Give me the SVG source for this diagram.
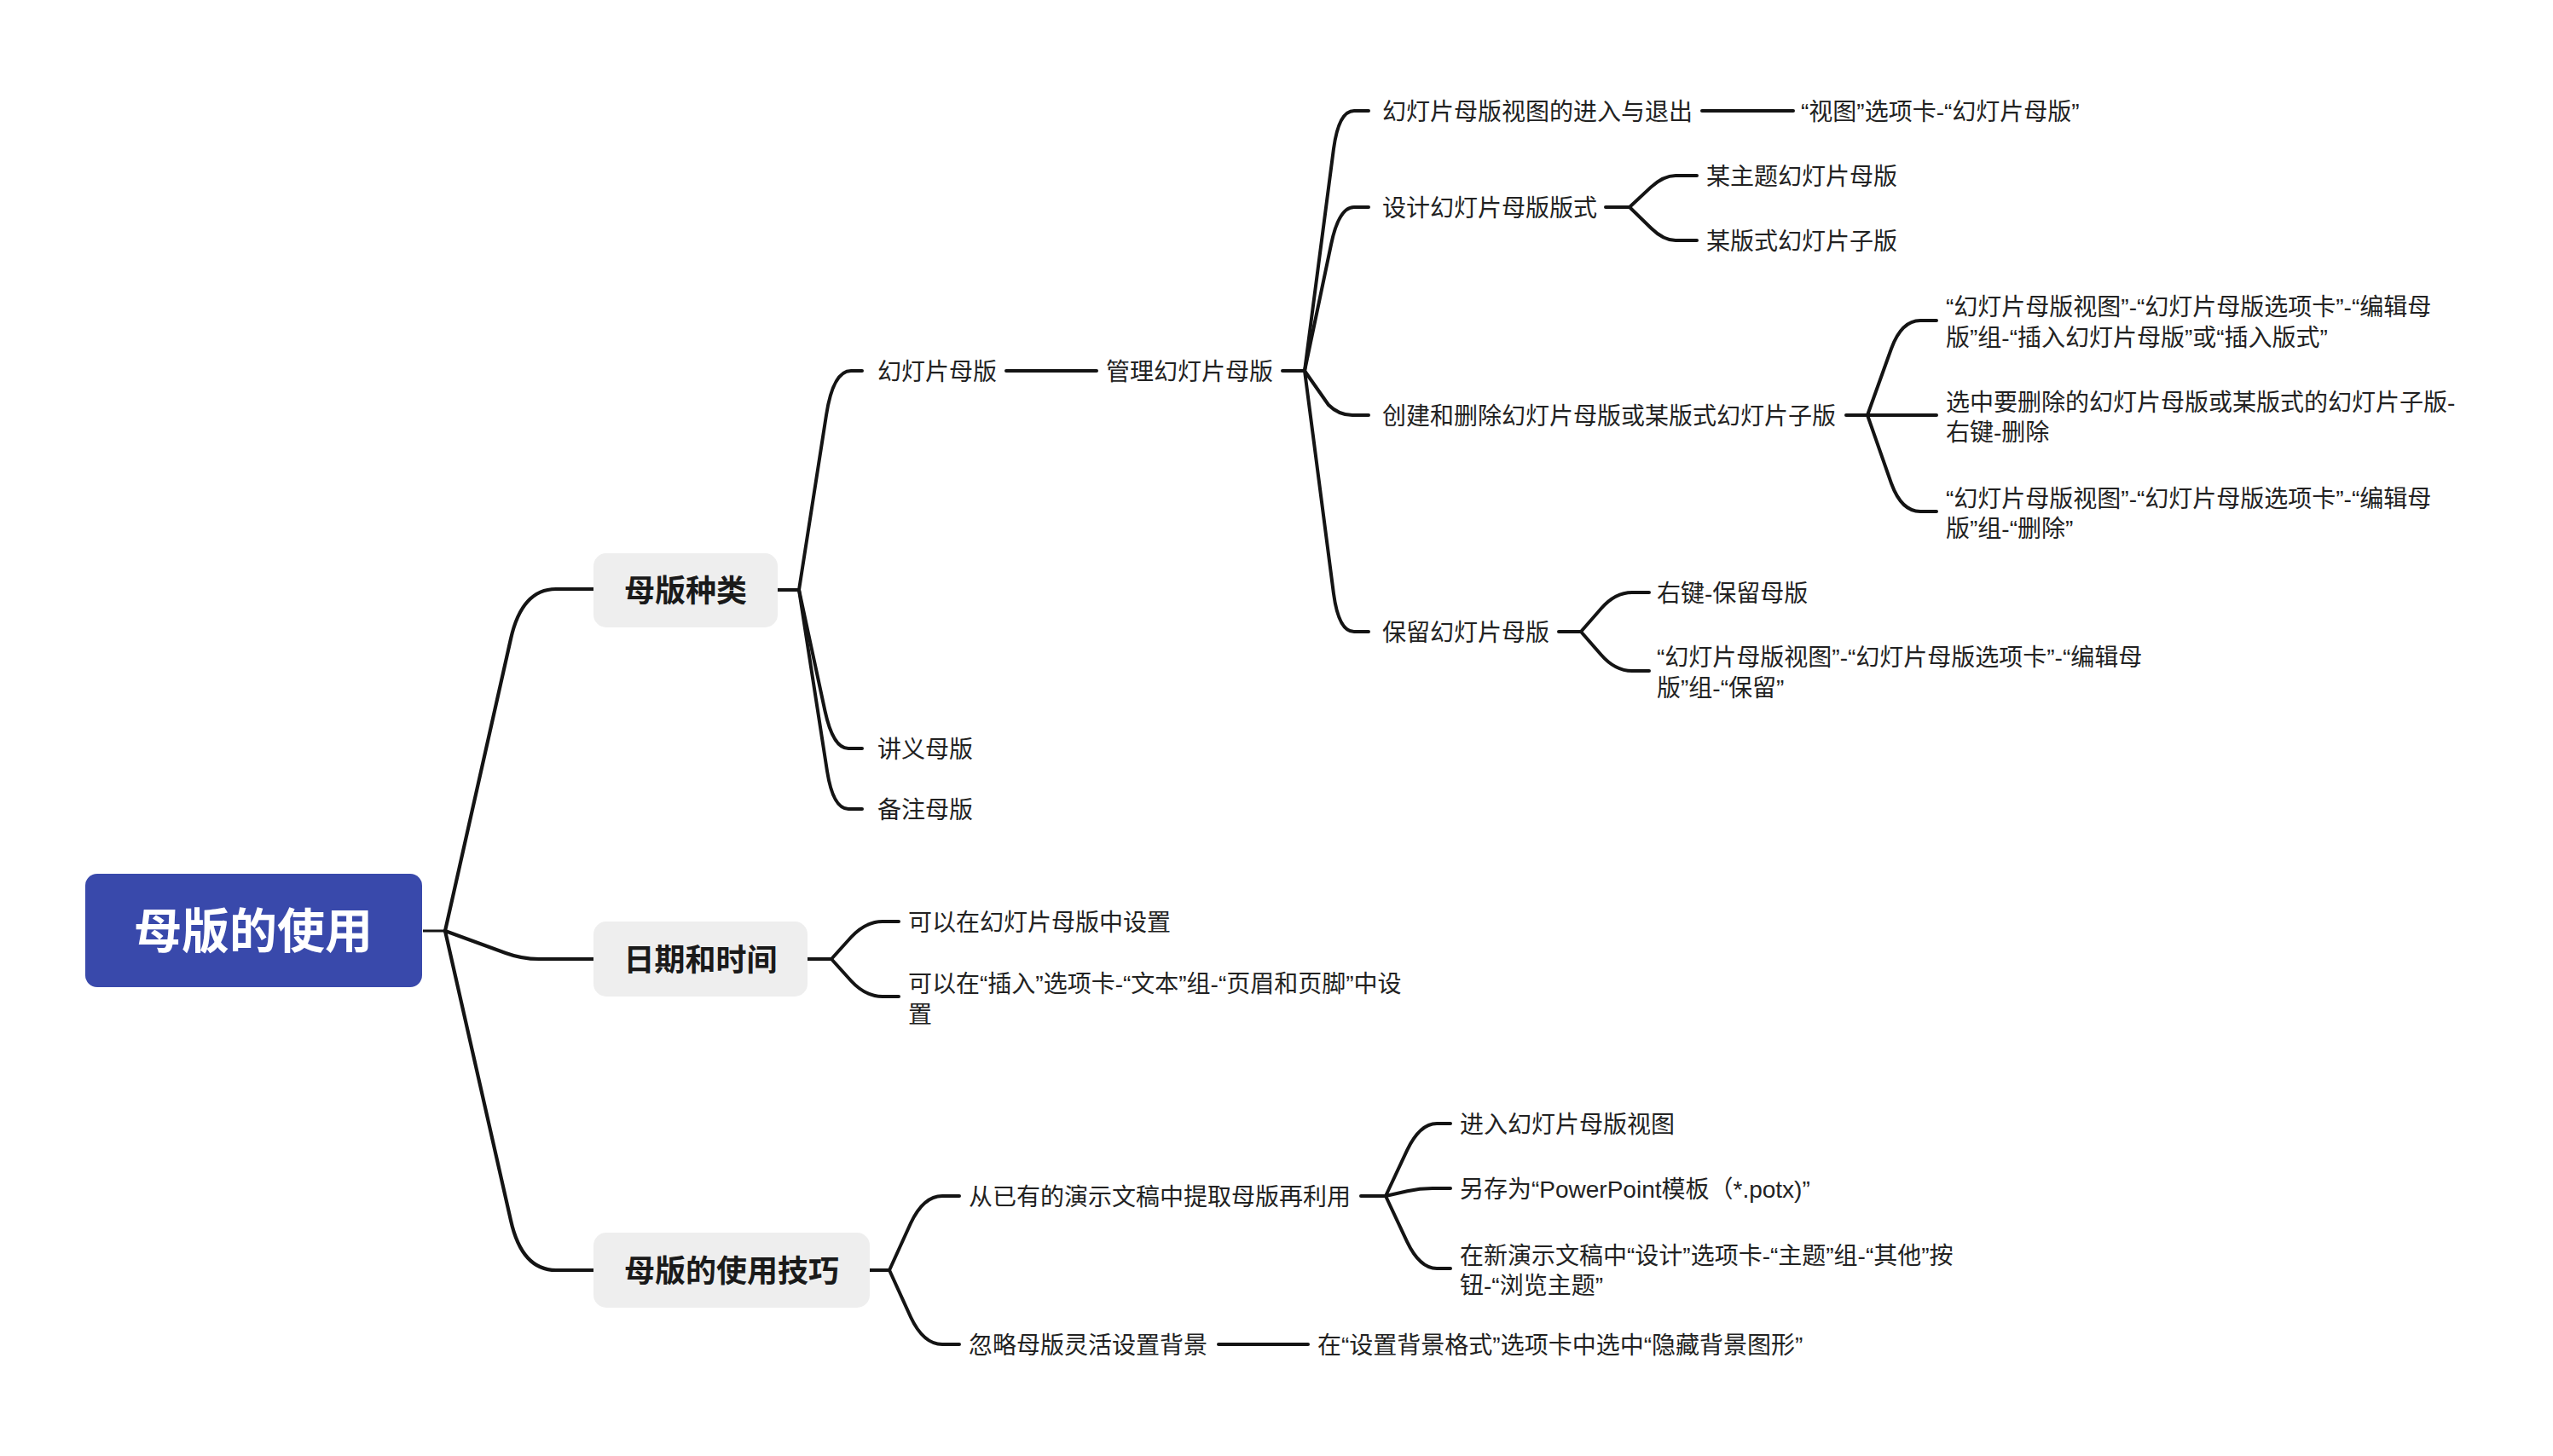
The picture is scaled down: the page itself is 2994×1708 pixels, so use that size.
<svg xmlns="http://www.w3.org/2000/svg" width="2994" height="1708" viewBox="0 0 2994 1708">
<style>
.bg{fill:#ffffff}
.c0{fill:none;stroke:#141414;stroke-width:3;stroke-linecap:butt}
.c1{fill:none;stroke:#141414;stroke-width:4.2;stroke-linecap:round;stroke-linejoin:round}
.c2{fill:none;stroke:#141414;stroke-width:4;stroke-linecap:round;stroke-linejoin:round}
.rootbox{fill:#3949AB}
.l1box{fill:#EEEEEE}
.rt{font-family:"Liberation Sans","Noto Sans CJK SC",sans-serif;font-size:56px;font-weight:bold;fill:#ffffff;text-anchor:middle;dominant-baseline:central}
.t1{font-family:"Liberation Sans","Noto Sans CJK SC",sans-serif;font-size:36px;font-weight:bold;fill:#1a1a1a;text-anchor:middle;dominant-baseline:central}
.t{font-family:"Liberation Sans","Noto Sans CJK SC",sans-serif;font-size:28px;fill:#222222;dominant-baseline:central}
</style>
<rect class="bg" x="0" y="0" width="2994" height="1708"/>
<g id="connectors">
  <path class="c0" d="M496 1092 L522 1092"/>
  <path class="c1" d="M522 1092 L599 749.5 Q612 691 652 691 L696 691"/>
  <path class="c1" d="M522 1092 L593 1118 Q612 1125 632 1125 L696 1125"/>
  <path class="c1" d="M522 1092 L599 1431.5 Q612 1490 652 1490 L696 1490"/>
  <!-- 母版种类 -->
  <path class="c2" d="M912 692 L937 692"/>
  <path class="c2" d="M937 692 L969 487 Q977 435 998 435 L1011 435"/>
  <path class="c2" d="M937 692 L967.5 834 Q977 878 995 878 L1011 878"/>
  <path class="c2" d="M937 692 L970 904.5 Q977 949 995 949 L1011 949"/>
  <path class="c2" d="M1180 435 L1286 435"/>
  <path class="c2" d="M1504 435 L1530 435"/>
  <!-- 管理幻灯片母版 -->
  <path class="c2" d="M1530 435 L1564 174.6 Q1570 130 1588 130 L1605 130"/>
  <path class="c2" d="M1530 435 L1561 287 Q1570 243 1588 243 L1605 243"/>
  <path class="c2" d="M1530 435 L1558 475 Q1570 487 1586 487 L1605 487"/>
  <path class="c2" d="M1530 435 L1564 696.4 Q1570 741 1588 741 L1605 741"/>
  <path class="c2" d="M1996 130 L2103 130"/>
  <!-- 设计 -->
  <path class="c2" d="M1883 243 L1911 243"/>
  <path class="c2" d="M1911 243 L1936 219.6 Q1951 206 1965 206 L1990 206"/>
  <path class="c2" d="M1911 243 L1936.7 268 Q1951 282 1965 282 L1990 282"/>
  <!-- 创建 -->
  <path class="c2" d="M2165 487 L2190 487"/>
  <path class="c2" d="M2190 487 L2218 409 Q2230 376 2252 376 L2271 376"/>
  <path class="c2" d="M2190 487 L2271 487"/>
  <path class="c2" d="M2190 487 L2218 567 Q2230 600 2252 600 L2271 600"/>
  <!-- 保留 -->
  <path class="c2" d="M1828 741 L1854 741"/>
  <path class="c2" d="M1854 741 L1877.6 714 Q1894 695 1914 695 L1934 695"/>
  <path class="c2" d="M1854 741 L1877.6 768 Q1894 787 1914 787 L1934 787"/>
  <!-- 日期和时间 -->
  <path class="c2" d="M947 1125 L975 1125"/>
  <path class="c2" d="M975 1125 L998 1099.5 Q1015 1081 1035 1081 L1054 1081"/>
  <path class="c2" d="M975 1125 L998 1150.5 Q1015 1169 1035 1169 L1054 1169"/>
  <!-- 技巧 -->
  <path class="c2" d="M1020 1490 L1043 1490"/>
  <path class="c2" d="M1043 1490 L1068 1435 Q1083 1403 1105 1403 L1125 1403"/>
  <path class="c2" d="M1043 1490 L1068 1545 Q1083 1577 1105 1577 L1125 1577"/>
  <path class="c2" d="M1429 1577 L1534 1577"/>
  <path class="c2" d="M1596 1403 L1625 1403"/>
  <path class="c2" d="M1625 1403 L1650 1349.6 Q1665 1318 1685 1318 L1701 1318"/>
  <path class="c2" d="M1625 1403 L1650.4 1397.3 Q1665 1394 1680 1394 L1701 1394"/>
  <path class="c2" d="M1625 1403 L1650 1456.4 Q1665 1488 1685 1488 L1701 1488"/>
</g>
<g id="root">
  <rect class="rootbox" x="100" y="1025" width="395" height="133" rx="14"/>
  <text class="rt" x="297" y="1092">母版的使用</text>
</g>
<g id="n-mbzl">
  <rect class="l1box" x="696" y="649" width="216" height="87" rx="15"/>
  <text class="t1" x="804" y="693">母版种类</text>
</g>
<g id="n-rqsj">
  <rect class="l1box" x="696" y="1081" width="251" height="88" rx="15"/>
  <text class="t1" x="821.5" y="1126">日期和时间</text>
</g>
<g id="n-syjq">
  <rect class="l1box" x="696" y="1446" width="324" height="88" rx="15"/>
  <text class="t1" x="858" y="1491">母版的使用技巧</text>
</g>
<g id="n-hdpmb"><text class="t" x="1029" y="436">幻灯片母版</text></g>
<g id="n-jymb"><text class="t" x="1029" y="879">讲义母版</text></g>
<g id="n-bzmb"><text class="t" x="1029" y="950">备注母版</text></g>
<g id="n-gl"><text class="t" x="1297" y="436">管理幻灯片母版</text></g>
<g id="n-jrtc"><text class="t" x="1621" y="131">幻灯片母版视图的进入与退出</text></g>
<g id="n-st"><text class="t" x="2112" y="131">“视图”选项卡-“幻灯片母版”</text></g>
<g id="n-sj"><text class="t" x="1621" y="244">设计幻灯片母版版式</text></g>
<g id="n-mzt"><text class="t" x="2001" y="207">某主题幻灯片母版</text></g>
<g id="n-mbs"><text class="t" x="2001" y="283">某版式幻灯片子版</text></g>
<g id="n-cj"><text class="t" x="1621" y="488">创建和删除幻灯片母版或某版式幻灯片子版</text></g>
<g id="n-cj1"><text class="t"><tspan x="2282" y="360">“幻灯片母版视图”-“幻灯片母版选项卡”-“编辑母</tspan><tspan x="2282" y="396">版”组-“插入幻灯片母版”或“插入版式”</tspan></text></g>
<g id="n-cj2"><text class="t"><tspan x="2282" y="472">选中要删除的幻灯片母版或某版式的幻灯片子版-</tspan><tspan x="2282" y="507">右键-删除</tspan></text></g>
<g id="n-cj3"><text class="t"><tspan x="2282" y="585">“幻灯片母版视图”-“幻灯片母版选项卡”-“编辑母</tspan><tspan x="2282" y="620">版”组-“删除”</tspan></text></g>
<g id="n-bl"><text class="t" x="1621" y="742">保留幻灯片母版</text></g>
<g id="n-bl1"><text class="t" x="1943" y="696">右键-保留母版</text></g>
<g id="n-bl2"><text class="t"><tspan x="1943" y="771">“幻灯片母版视图”-“幻灯片母版选项卡”-“编辑母</tspan><tspan x="1943" y="807">版”组-“保留”</tspan></text></g>
<g id="n-rq1"><text class="t" x="1065" y="1082">可以在幻灯片母版中设置</text></g>
<g id="n-rq2"><text class="t"><tspan x="1065" y="1154">可以在“插入”选项卡-“文本”组-“页眉和页脚”中设</tspan><tspan x="1065" y="1190">置</tspan></text></g>
<g id="n-cyy"><text class="t" x="1136" y="1404">从已有的演示文稿中提取母版再利用</text></g>
<g id="n-jr"><text class="t" x="1712" y="1319">进入幻灯片母版视图</text></g>
<g id="n-lcw"><text class="t" x="1712" y="1395">另存为“PowerPoint模板（*.potx)”</text></g>
<g id="n-zxys"><text class="t"><tspan x="1712" y="1473">在新演示文稿中“设计”选项卡-“主题”组-“其他”按</tspan><tspan x="1712" y="1508">钮-“浏览主题”</tspan></text></g>
<g id="n-hl"><text class="t" x="1136" y="1578">忽略母版灵活设置背景</text></g>
<g id="n-hl1"><text class="t" x="1545" y="1578">在“设置背景格式”选项卡中选中“隐藏背景图形”</text></g>
</svg>
